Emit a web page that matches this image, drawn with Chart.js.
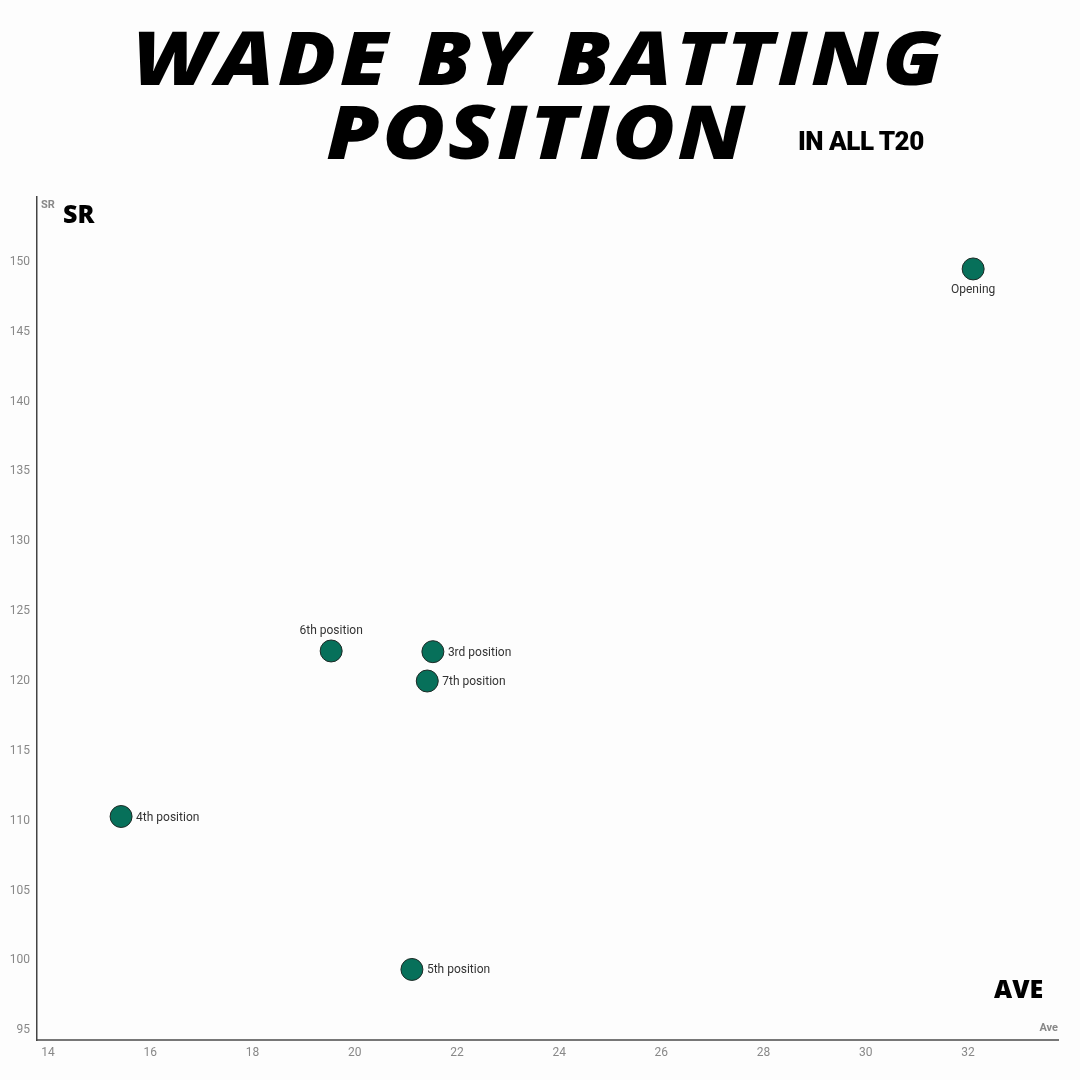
<!DOCTYPE html>
<html>
<head>
<meta charset="utf-8">
<script src="https://cdn.jsdelivr.net/npm/chart.js@4.4.1/dist/chart.umd.min.js"></script>
<style>
  html, body { margin: 0; padding: 0; background: #fdfdfd; }
  #wrap { position: relative; width: 1080px; height: 1080px; overflow: hidden; }
  #chart { position: absolute; left: 0; top: 0; }
  .title {
    position: absolute; left: 0; width: 1080px; text-align: center;
    font-family: "Open Sans", sans-serif; font-weight: 800; font-style: italic;
    font-size: 75px; line-height: 1; letter-spacing: 3px; color: #000;
    transform: scaleX(1.145); transform-origin: 540px 0;
  }
  .sub { position: absolute; font-family: "Open Sans", sans-serif; font-weight: 800; color: #000; }
</style>
</head>
<body>
<div id="wrap">
  <canvas id="chart" width="1080" height="1080"></canvas>
  <div class="title" style="top:19px; left:-1px;">WADE BY BATTING</div>
  <div class="title" style="top:93px; left:-3px; letter-spacing:2px;">POSITION</div>
  <div class="sub" style="left:798px; top:126px; font-size:26px; font-family:Roboto; font-weight:900; letter-spacing:-0.5px;">IN ALL T20</div>
  <div class="sub" style="left:63px; top:196px; font-size:25px;">SR</div>
  <div class="sub" style="left:994px; top:971px; font-size:25px;">AVE</div>
</div>
<script>
// data
const positions = ["Opening", "3rd position", "4th position", "5th position", "6th position", "7th position"];
const average = [32.1, 21.53, 15.43, 21.12, 19.54, 21.42];
const strikeRate = [149.5, 122.1, 110.3, 99.35, 122.15, 120.0];
const labelSide = ["bottom", "right", "right", "right", "top", "right"];

const xTicks = [14, 16, 18, 20, 22, 24, 26, 28, 30, 32];
const yTicks = [95, 100, 105, 110, 115, 120, 125, 130, 135, 140, 145, 150];

const points = average.map((v, i) => ({ x: v, y: strikeRate[i] }));

// labels next to each dot + small axis titles
const pointLabels = {
  id: "pointLabels",
  afterDatasetsDraw(chart) {
    const ctx = chart.ctx;
    const meta = chart.getDatasetMeta(0);
    ctx.save();
    ctx.font = "12px Roboto";
    ctx.fillStyle = "#333";
    meta.data.forEach((pt, i) => {
      const side = labelSide[i];
      if (side === "right") {
        ctx.textAlign = "left"; ctx.textBaseline = "middle";
        ctx.fillText(positions[i], pt.x + 15, pt.y + 1);
      } else if (side === "bottom") {
        ctx.textAlign = "center"; ctx.textBaseline = "top";
        ctx.fillText(positions[i], pt.x, pt.y + 15);
      } else {
        ctx.textAlign = "center"; ctx.textBaseline = "bottom";
        ctx.fillText(positions[i], pt.x, pt.y - 14);
      }
    });
    const a = chart.chartArea;
    ctx.font = "bold 11px Roboto";
    ctx.fillStyle = "#888";
    ctx.textAlign = "left"; ctx.textBaseline = "top";
    ctx.fillText("SR", a.left + 4, a.top + 3);
    ctx.textAlign = "right"; ctx.textBaseline = "bottom";
    ctx.fillText("Ave", a.right, a.bottom - 6);
    ctx.restore();
  }
};

new Chart(document.getElementById("chart"), {
  type: "scatter",
  data: {
    datasets: [{
      data: points,
      backgroundColor: "#07705a",
      borderColor: "#1e2a26",
      borderWidth: 1,
      pointRadius: 11,
      pointHoverRadius: 11
    }]
  },
  options: {
    responsive: false,
    animation: false,
    layout: { padding: { top: 197, right: 22, left: 0, bottom: 0 } },
    plugins: { legend: { display: false }, tooltip: { enabled: false } },
    scales: {
      x: {
        type: "linear",
        min: 13.785,
        max: 33.76,
        afterBuildTicks: (s) => { s.ticks = xTicks.map(v => ({ value: v })); },
        afterFit: (s) => { s.height = 40; },
        grid: { display: false, drawTicks: false },
        border: { display: true, color: "#777", width: 2 },
        ticks: { color: "#888", font: { family: "Roboto", size: 12 }, padding: 6 }
      },
      y: {
        type: "linear",
        min: 94.3,
        max: 154.65,
        afterBuildTicks: (s) => { s.ticks = yTicks.map(v => ({ value: v })); },
        afterFit: (s) => { s.width = 37; },
        grid: { display: false, drawTicks: false },
        border: { display: true, color: "#444", width: 1.5 },
        ticks: { color: "#888", font: { family: "Roboto", size: 12 }, padding: 7 }
      }
    }
  },
  plugins: [pointLabels]
});
</script>
</body>
</html>
